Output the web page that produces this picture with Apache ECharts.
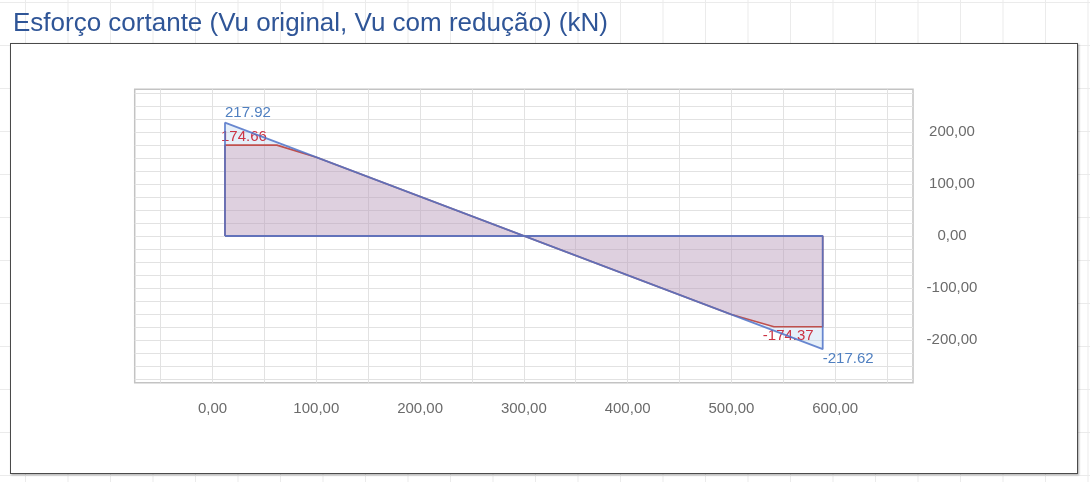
<!DOCTYPE html>
<html>
<head>
<meta charset="utf-8">
<script src="https://cdn.jsdelivr.net/npm/echarts@6/dist/echarts.min.js"></script>
<style>
  html, body { margin: 0; padding: 0; }
  body {
    width: 1090px; height: 482px; position: relative; overflow: hidden;
    background-color: #fff;
    background-image:
      linear-gradient(to right, #ebebeb 1px, transparent 1px),
      linear-gradient(to bottom, #ebebeb 1px, transparent 1px);
    background-size: 42.5px 43px;
    background-position: 25px 2px;
  }
  #box {
    position: absolute; left: 10px; top: 43px; width: 1066px; height: 429px;
    background: #fff; border: 1px solid #4a4a4a;
    box-shadow: 1px 1px 2px rgba(0,0,0,0.35);
  }
  #chart { position: absolute; left: 0; top: 0; width: 1090px; height: 482px; }
</style>
</head>
<body>
<div id="box"></div>
<div id="chart"></div>
<script>
// ---- data ----
const titleText = 'Esforço cortante (Vu original, Vu com redução) (kN)';
const originalX = [12, 12, 588, 588, 12];
const originalY = [0, 217.92, -217.62, 0, 0];
const reducedX = [12, 12, 62, 100, 500, 541, 588, 588, 12];
const reducedY = [0, 174.66, 174.66, 151.4, -151.1, -174.37, -174.37, 0, 0];
const originalLabelIdx = [1, 2];
const reducedLabelIdx = [1, 6];
const xLabelTicks = [0, 100, 200, 300, 400, 500, 600];
const xGridTicks = [-50, 0, 50, 100, 150, 200, 250, 300, 350, 400, 450, 500, 550, 600, 650];
const yLabelTicks = [-200, -100, 0, 100, 200];
const yGridTicks = [-275, -250, -225, -200, -175, -150, -125, -100, -75, -50, -25, 0, 25, 50, 75, 100, 125, 150, 175, 200, 225, 250, 275];

const fmtComma = v => v.toFixed(2).replace('.', ',');
const FONT = '"Liberation Sans", Arial, sans-serif';

function pairs(xs, ys) { return xs.map((x, i) => [x, ys[i]]); }

const blueLabels = {
  1: { position: 'top', align: 'left', offset: [0, 3] },
  2: { position: 'bottom', align: 'left', offset: [0, -3] }
};
const redLabels = {
  1: { position: 'top', align: 'left', offset: [-4, 4] },
  6: { position: 'bottom', align: 'right', offset: [-9, -3] }
};

function labelled(xs, ys, idxs, cfg, color) {
  return xs.map((x, i) => {
    const item = { value: [x, ys[i]] };
    if (idxs.indexOf(i) >= 0) {
      item.label = Object.assign({
        show: true, color: color, fontSize: 15, fontFamily: FONT,
        textBorderWidth: 0, opacity: 1,
        formatter: p => p.value[1].toFixed(2)
      }, cfg[i]);
    }
    return item;
  });
}

const chart = echarts.init(document.getElementById('chart'), null, { renderer: 'canvas' });
chart.setOption({
  backgroundColor: 'transparent',
  animation: false,
  title: {
    text: titleText, left: 8, top: 6,
    textStyle: { fontSize: 26, fontWeight: 'normal', color: '#2f5597', fontFamily: FONT }
  },
  grid: {
    left: 134.7, top: 89.3, right: 177, bottom: 99.3,
    show: true, borderColor: '#c3c3c3', borderWidth: 1.5, backgroundColor: 'transparent'
  },
  xAxis: {
    type: 'value', min: -75, max: 675,
    axisLine: { show: false },
    axisTick: { show: false, customValues: xGridTicks },
    splitLine: { show: true, lineStyle: { color: '#e2e2e2', width: 1 } },
    axisLabel: {
      customValues: xLabelTicks, formatter: fmtComma, margin: 19,
      color: '#6b6b6b', fontSize: 15, fontFamily: FONT
    }
  },
  yAxis: {
    type: 'value', position: 'right', min: -282, max: 282,
    axisLine: { show: false },
    axisTick: { show: false, customValues: yGridTicks },
    splitLine: { show: true, lineStyle: { color: '#e2e2e2', width: 1 } },
    axisLabel: {
      customValues: yLabelTicks, formatter: fmtComma, margin: 39, align: 'center',
      color: '#6b6b6b', fontSize: 15, fontFamily: FONT
    }
  },
  series: [
    {
      name: 'Vu original (área)', type: 'line', data: pairs(originalX, originalY),
      symbol: 'none', lineStyle: { width: 0, opacity: 0 },
      areaStyle: { color: 'rgba(170,200,235,0.42)', origin: 0 }, z: 1, silent: true
    },
    {
      name: 'Vu com redução', type: 'line',
      data: labelled(reducedX, reducedY, reducedLabelIdx, redLabels, '#cc3344'),
      symbol: 'circle', symbolSize: 0.01, showSymbol: true,
      itemStyle: { color: '#c0504d', opacity: 0 },
      lineStyle: { color: '#c0504d', width: 1.6 },
      areaStyle: { color: 'rgba(195,105,135,0.32)', origin: 0 }, z: 2
    },
    {
      name: 'Vu original', type: 'line',
      data: labelled(originalX, originalY, originalLabelIdx, blueLabels, '#4f7fc0'),
      symbol: 'circle', symbolSize: 0.01, showSymbol: true,
      itemStyle: { color: '#5073c8', opacity: 0 },
      lineStyle: { color: 'rgba(80,115,200,0.85)', width: 1.8 }, z: 3
    }
  ]
});
</script>
</body>
</html>
